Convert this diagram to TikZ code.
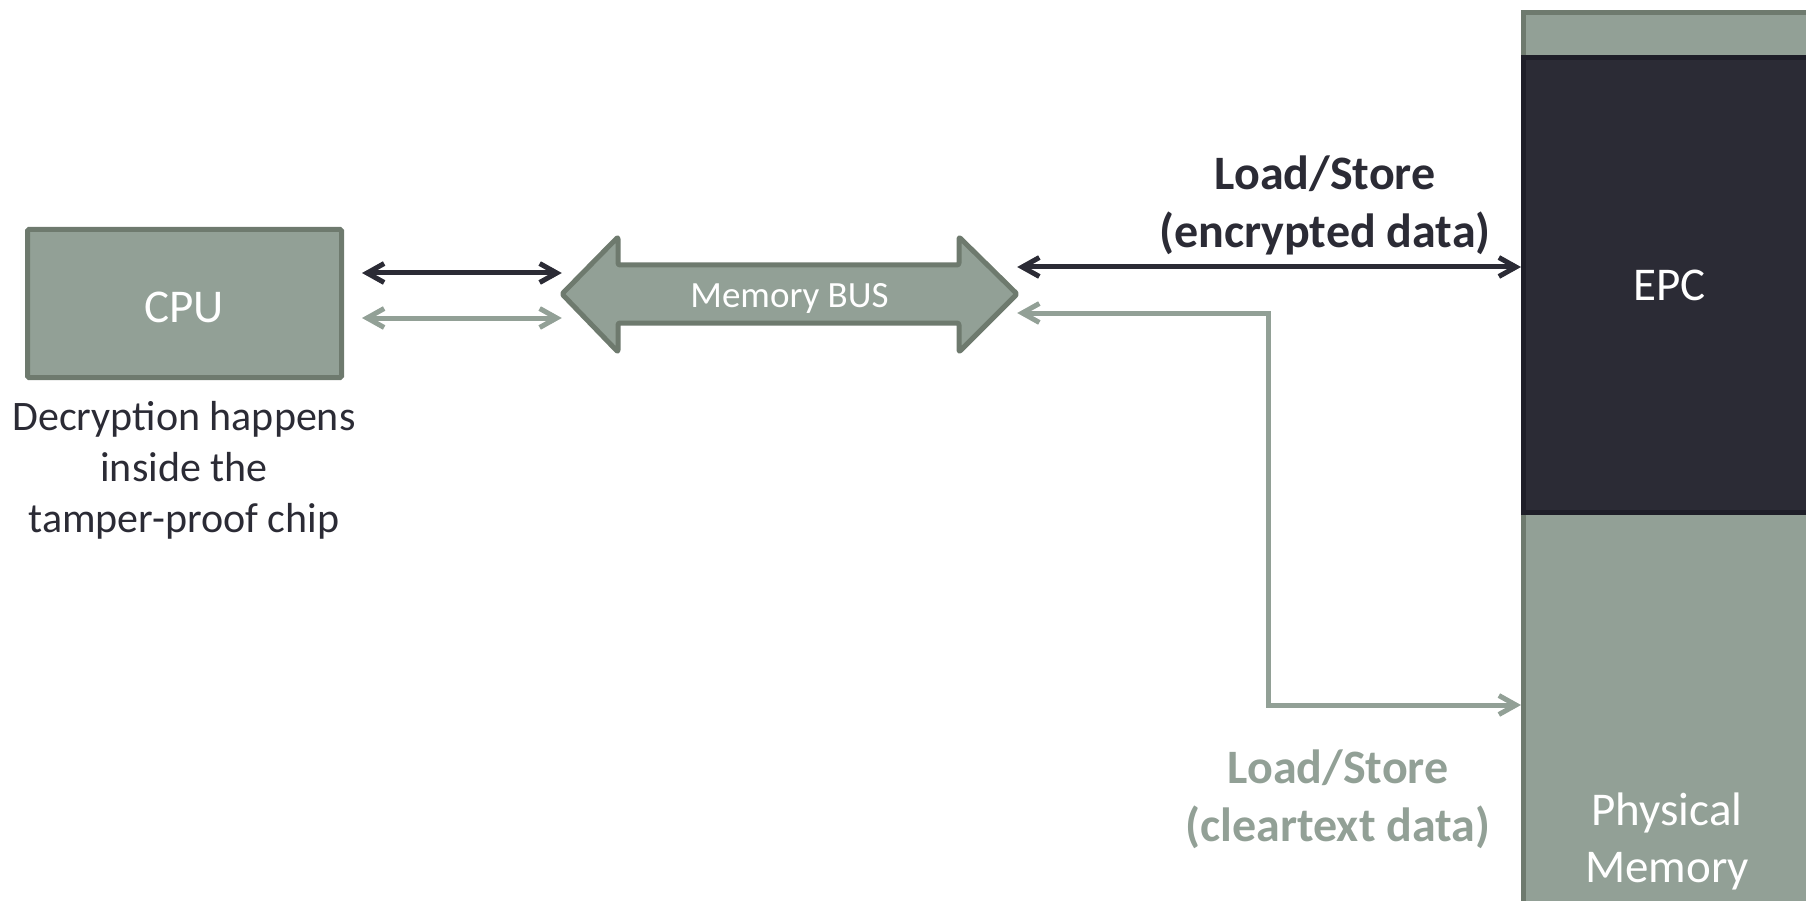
\documentclass[tikz,border=0pt]{standalone}
\usepackage{fontspec}
\setmainfont{Carlito}
\usetikzlibrary{arrows.meta,calc}
\definecolor{sage}{RGB}{146,160,150}
\definecolor{sageedge}{RGB}{110,122,110}
\definecolor{ink}{RGB}{43,43,53}
\definecolor{inkedge}{RGB}{30,30,40}
\begin{document}
\begin{tikzpicture}[x=1pt,y=-1pt,
  box/.style={draw=sageedge, fill=sage, line width=5pt, rounded corners=1.5pt,
    inner sep=0pt, text=white},
  darkbox/.style={draw=inkedge, fill=ink, line width=5pt, inner sep=0pt, text=white},
  barb/.tip={Straight Barb[length=17pt,width=19pt]},
  darklink/.style={draw=ink, line width=5pt, {barb}-{barb}, line cap=round},
  lightlink/.style={draw=sage, line width=5pt, {barb}-{barb}, line cap=round},
  big/.style={font=\fontsize{47}{57}\selectfont},
  label/.style={font=\fontsize{48}{58}\selectfont\bfseries, align=center},
]
\useasboundingbox (0,0) rectangle (1806,901);
\clip (0,0) rectangle (1806,901);

% memory column with the EPC region
\node[box, rounded corners=0pt, anchor=north west, minimum width=292pt, minimum height=900pt]
  (mem) at (1521,10) {};
\node[darkbox, anchor=north west, minimum width=292pt, minimum height=455pt, big]
  (epc) at (1521,55) {EPC};
\node[big, text=white, align=center] (memlabel) at (1667,841) {Physical\\Memory};

% CPU
\node[box, minimum width=314pt, minimum height=148pt, big] (cpu) at (184.5,303.5) {};
\node[big, text=white] (cputext) at (184,307) {CPU};
\node[font=\fontsize{42}{51}\selectfont, text=ink, align=center, anchor=north]
  (note) at (184,398) {Decryption happens\\inside the\\tamper-proof chip};

% memory bus
\draw[box, rounded corners=2pt, line join=round]
  (562,294) -- (618,237) -- (618,265) -- (959,265) -- (959,237) -- (1017,294)
  -- (959,352) -- (959,323) -- (618,323) -- (618,352) -- cycle;
\node[minimum width=455pt, minimum height=115pt, inner sep=0pt, text=white,
  font=\fontsize{37}{44}\selectfont] (bus) at (789.5,294) {};
\node[text=white, font=\fontsize{37}{44}\selectfont] (bustext) at (789.5,298) {Memory BUS};

% levels of the connectors
\coordinate (ydl) at (0,273);
\coordinate (yll) at (0,318);
\coordinate (ydr) at (0,267);
\coordinate (ylr) at (0,313);
\coordinate (ymem) at (0,705);
\coordinate (xturn) at (1268,0);

% CPU <-> bus
\draw[darklink] ($(cpu.east |- ydl)+(18,0)$) -- (bus.west |- ydl);
\draw[lightlink] ($(cpu.east |- yll)+(18,0)$) -- (bus.west |- yll);

% bus <-> memory
\draw[darklink] (bus.east |- ydr) -- (epc.west |- ydr);
\draw[lightlink, line cap=butt, line join=miter]
  (bus.east |- ylr) -- (xturn |- ylr) -- (xturn |- ymem) -- (mem.west |- ymem);

% labels
\node[label, text=ink] (enc) at (1325,205) {Load/Store\\(encrypted data)};
\node[label, text=sage] (clr) at (1338,799) {Load/Store\\(cleartext data)};
\end{tikzpicture}
\end{document}
